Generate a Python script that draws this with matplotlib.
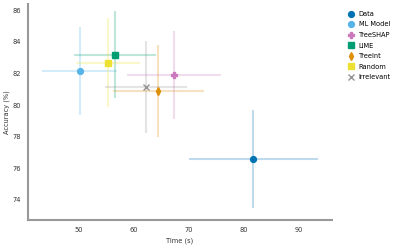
import numpy as np
import matplotlib.pyplot as plt

# Dati
methods = ['Data', 'ML Model', 'TreeSHAP', 'LIME', 'TreeInt', 'Random', 'Irrelevant']
time_mean = [81.7, 50.1, 67.3, 56.5, 64.4, 55.2, 62.2]
time_err = [11.7, 6.8, 8.5, 7.5, 8.3, 5.8, 7.4]
acc_mean = [76.57, 82.15, 81.92, 83.19, 80.89, 82.68, 81.16]
acc_err = [3.1, 2.8, 2.8, 2.75, 2.9, 2.8, 2.9]

colors = ['#0173b2', '#56b4e9', '#cc78bc', '#029e73', '#de8f05', '#ece133', '#949494']
markers = ['o', 'o', 'P', 's', 'd', 's', 'x']

plt.rcParams['font.family'] = 'DejaVu Sans'
plt.rcParams['font.size'] = 4.8

fig = plt.figure(figsize=(3.99, 2.47), dpi=100)
ax = fig.add_axes([0.070, 0.109, 0.762, 0.875])

for i in range(len(methods)):
    ax.errorbar(time_mean[i], acc_mean[i], xerr=time_err[i], yerr=acc_err[i],
                fmt='none', ecolor=colors[i], alpha=0.25, elinewidth=1.5, capsize=0)
    ax.plot(time_mean[i], acc_mean[i], linestyle='none', marker=markers[i],
            color=colors[i], markersize=4.2, markeredgewidth=1, label=methods[i])

ax.set_xlim(40.7, 96)
ax.set_ylim(72.73, 86.4)
ax.set_xticks([50, 60, 70, 80, 90])
ax.set_yticks([74, 76, 78, 80, 82, 84, 86])
ax.set_xlabel('Time (s)', color='#333333', labelpad=3)
ax.set_ylabel('Accuracy (%)', color='#333333', labelpad=2)
ax.tick_params(length=0, colors='#333333', labelsize=4.8, pad=5)
for s in ['top', 'right']:
    ax.spines[s].set_visible(False)
for s in ['left', 'bottom']:
    ax.spines[s].set_color('#999999')
    ax.spines[s].set_linewidth(1.5)

ax.legend(loc='upper left', bbox_to_anchor=(1.04, 0.98), frameon=False,
          fontsize=4.8, handlelength=1.2, handletextpad=0.6, labelspacing=0.68,
          borderaxespad=0)

plt.savefig('out.png', dpi=100)
